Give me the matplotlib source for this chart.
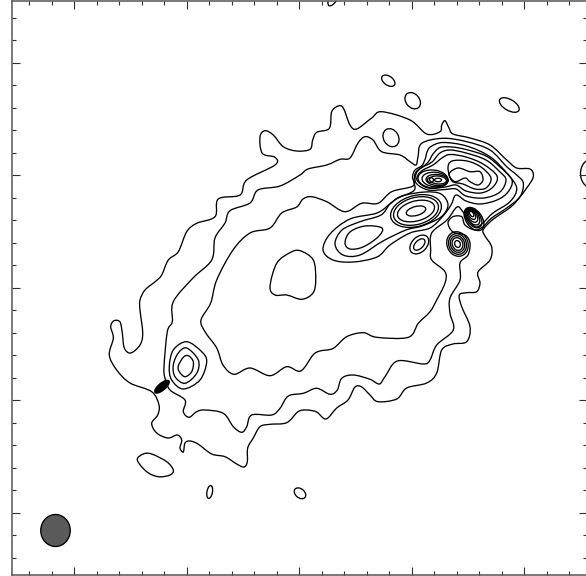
import matplotlib
matplotlib.use("Agg")
import matplotlib.pyplot as plt
import numpy as np
from matplotlib.patches import Ellipse, PathPatch
from matplotlib.path import Path

# Contours, in image position units (x right, y down)
outer = [
    (156, 281), (145, 290), (140, 300), (140, 310), (142.7, 333), (140, 345), (130.7, 353), (124.3, 348),
    (122.3, 333), (120, 322), (114, 320.7), (110.7, 326.7), (113.3, 338), (109.3, 355), (116.7, 370),
    (130, 383), (151.7, 391.7), (159, 405), (157.7, 415), (151.7, 423.3), (156.7, 433), (168, 438),
    (177.3, 435), (181.7, 440), (180, 448), (183.3, 452), (185, 443), (190, 441), (198, 444), (211.7, 454),
    (225, 456.7), (236.7, 464), (244, 467), (247.3, 461.7), (247.7, 448), (253.3, 438), (260, 426.7),
    (270, 424.3), (286.7, 422.7), (298, 411.7), (306.7, 410), (316.7, 412), (326, 419), (336.7, 408),
    (348, 400), (355, 387), (361.7, 387), (370, 395), (378, 401.7), (396.7, 399), (406.7, 388),
    (426.7, 383), (436.7, 373), (441.7, 350), (453, 344), (466.7, 341.7), (470, 326.7), (461.7, 306.7),
    (459.3, 295), (466.7, 292.7), (476.7, 291.7), (480, 283), (478, 272), (490, 260), (491.7, 247),
    (485, 236), (483, 230), (490, 222), (496.7, 216.7), (513, 205), (526.7, 188), (533.3, 176.7),
    (530, 169), (516.7, 168), (506.7, 160), (490, 145), (470, 138), (453, 134), (449, 128), (445, 120.7),
    (441.7, 125), (440, 131.7), (426.7, 134), (410, 120), (381.7, 111.7), (371.7, 118), (356.7, 129),
    (350, 125), (343.3, 108), (338.3, 106), (331.7, 111.7), (329.3, 128.3), (316.7, 132.3), (312.7, 140),
    (310, 149.3), (296.7, 151), (283.3, 146.7), (273.3, 135), (265, 130.7), (260, 136.7), (262.3, 153.3),
    (275, 157.3), (275, 165), (246.7, 180), (240, 195), (218.3, 199), (215, 216.7), (196.7, 223.3),
    (186.7, 231.7), (178.3, 251.7), (168.3, 260), (161.7, 275),
]
second = [
    (193, 278), (173.3, 301.7), (172.3, 321.7), (167.3, 331.7), (164, 366.7), (165, 378), (170, 390),
    (185, 400), (183.3, 411.7), (189, 417.3), (196.7, 411.7), (205, 410), (223.3, 413.3), (233.3, 426.7),
    (241.7, 432.3), (246.7, 426.7), (251.7, 415), (271.7, 415), (280, 408.3), (288.3, 396), (303.3, 393.3),
    (316.7, 388.3), (330, 394.3), (337.3, 390), (341.7, 378.3), (353.3, 375), (370, 379.3), (379.3, 384),
    (385, 376.7), (397.3, 361), (423.3, 364), (430, 360), (436.7, 345), (453.3, 330), (450, 313.3),
    (450, 298), (460, 280), (460, 263), (468, 255), (470, 243), (465, 235), (453, 232), (448, 223),
    (453, 216.7), (461.7, 216.7), (465, 225), (475, 230), (483, 226.7), (491.7, 218), (506.7, 208),
    (520, 196.7), (523.3, 183), (516.7, 175), (506.7, 166.7), (490, 150), (466.7, 141.7), (443, 138.3),
    (421.7, 143.3), (418, 157), (416, 165), (410, 161.7), (400, 155), (381.7, 151.7), (373, 140),
    (365, 136.7), (358, 143), (350, 158), (340, 159.3), (326.7, 165), (308, 169), (300, 175), (280, 186),
    (258, 190), (250, 203), (230, 210.7), (225, 223), (215, 238), (211.7, 260),
]
third = [
    (216.7, 280), (210.7, 303), (201, 320), (205, 331.7), (216.7, 348), (223, 365), (234, 374.3), (250, 368),
    (270, 375.7), (286.7, 366.7), (300.7, 371), (313, 355), (320, 351), (333.3, 348.3), (346.7, 336.7),
    (363.3, 332.7), (376.7, 337.3), (408.3, 337.3), (418.3, 323.3), (430, 311.7), (436.7, 300), (445, 283),
    (445, 271.7), (431.7, 260), (430.7, 250), (431.7, 233), (447, 220), (457, 207), (463, 212), (470, 222),
    (476, 227), (483, 223), (493, 213), (510, 201.7), (516.7, 188), (506.7, 173), (490, 156.7), (466.7, 146),
    (443, 142.5), (431, 146.5), (427, 152), (425.5, 158), (422, 165.5), (415, 170), (412.5, 177), (413, 186),
    (391.7, 191.7), (378, 203.3), (361.7, 203.3), (345, 211.7), (326.7, 201.7), (311.7, 196.7), (303, 199),
    (296.7, 207), (281.7, 213), (270, 228), (250, 233), (233, 250),
]
fourth = [
    (398, 198), (414, 190.5), (414, 181), (416, 172), (424, 166), (429, 161), (433, 154), (440, 147.5),
    (452, 147), (466, 149.5), (486, 156), (500, 167), (512, 180), (508, 192), (497, 200), (480, 204),
    (466, 201), (456, 195), (451, 205), (443, 216), (430, 228), (410, 233), (390, 245), (377, 257),
    (353, 262), (333, 260), (323, 250), (330, 234), (350, 219), (377, 213), (391, 203),
]
lobes_env = [
    (335, 244), (342, 230), (360, 221.7), (381, 215), (390, 204), (402, 196), (425, 192), (441, 194),
    (448, 205), (441, 217), (422, 226), (406, 230), (383, 241), (360, 255), (343, 255),
]
lobe_inner = [(345, 243), (350, 232), (365, 226), (382, 228), (378, 237), (363, 247), (350, 249)]
top_e = [
    (416, 183), (416, 174), (421, 168), (432, 162), (440, 153), (450, 150), (466, 153), (486, 160),
    (500, 172), (506, 180), (500, 192), (484, 198), (466, 196), (456, 189), (445, 189.5), (428, 190),
]
top_f = [
    (417.5, 181), (418, 175), (423, 170), (433, 165), (442, 158), (450, 154.5), (466, 157), (483, 164),
    (497, 176), (493, 187), (481, 193), (466, 191), (456, 185), (445, 187), (428, 188),
]
top_g = [
    (448, 168), (452, 161), (467, 161), (481, 167), (491, 178), (486, 188), (475, 189), (463, 184), (452, 181),
]
top_h = [
    (449, 174), (458, 168), (470, 171.7), (480, 171.7), (483, 180), (478, 185), (470, 181.7), (465, 178), (455, 181.7),
]
central = [
    (300, 250.7), (313.3, 260), (315.7, 280), (313, 293), (301.7, 299.3), (286.7, 295), (275, 295),
    (270, 286.7), (276.7, 263.3), (290, 252.7),
]
src_a = [
    (169.3, 366.7), (173.3, 350), (186.7, 341.7), (201.7, 351.7), (206.7, 361.7), (200, 380), (183.3, 389), (171.7, 380),
]
src_b = [
    (173.3, 365), (178.3, 353), (186.7, 348), (198.3, 360), (196.7, 373.3), (185, 383.3), (175, 376.7),
]
src_c = [
    (178.3, 366), (183.3, 357.3), (188.3, 355.7), (193.3, 361.7), (191.7, 371.7), (185, 376.7), (179.3, 371.7),
]
island_sw = [
    (137.3, 460), (143.3, 454), (151.7, 454), (166.7, 461.7), (173.3, 470), (170, 475), (158.3, 476.7), (146.7, 471.7),
]

traced = [outer, second, third, fourth, lobes_env, lobe_inner, top_e, top_f, top_g, top_h,
          central, src_a, src_b, src_c, island_sw]

# Small closed rings: centre x, centre y, long axis, short axis, tilt
ring_x = [388.3, 412.7, 509.3, 391, 209.7, 300, 591, 334,
          433, 435, 437, 438, 430.5, 438,
          474, 473.5, 473, 472.5, 472, 471.7,
          457.5, 457.5, 457.5, 457.5, 457.5,
          419.3, 419.3,
          416, 416, 416, 416]
ring_y = [80.7, 100.7, 105, 137.7, 492, 493.3, 173.5, -3,
          179, 179.5, 180, 180, 180, 180,
          219, 218, 217, 216, 215, 214,
          244, 244, 244, 244, 244,
          244.5, 244.5,
          211, 211, 211, 211]
ring_w = [15, 18, 22, 19, 13, 13, 28, 20,
          30, 26, 22, 17, 6, 7,
          26, 22, 18, 14, 10, 6,
          25, 21, 17, 13, 7,
          22, 14,
          52, 46, 38, 20]
ring_h = [9, 13.5, 11, 15, 5.5, 9, 21, 8,
          18, 14.5, 11, 8, 5, 3.5,
          16, 13.5, 11, 8.5, 6, 3.5,
          21, 17.5, 14, 10.5, 5.5,
          15, 8,
          31, 27, 20, 9]
ring_tilt = [35, 50, 30, 60, -80, 40, 90, 120,
             5, 5, 5, 5, 0, 0,
             55, 55, 55, 55, 55, 55,
             70, 70, 70, 70, 70,
             -45, -45,
             -15, -15, -15, -15]

# Tick positions
major_x = [74, 186.5, 299, 411.5, 524]
major_y = [62.7, 175, 287.5, 400, 512.5]
minor_x = [29, 51.5, 96.5, 119, 141.5, 164, 209, 231.5, 254, 276.5, 321.5, 344, 366.5, 389,
           434, 456.5, 479, 501.5, 546.5, 569]
minor_y = [17.7, 40.2, 85.2, 107.7, 130, 152.5, 197.5, 220, 242.5, 265, 310, 332.5, 355, 377.5,
           422.5, 445, 467.5, 490, 535, 557.5]


def closed_smooth(points):
    # Catmull-Rom through the traced points, written as bezier segments
    p = np.array(points, dtype=float)
    n = len(p)
    verts = [p[0]]
    codes = [Path.MOVETO]
    for i in range(n):
        p0, p1, p2, p3 = p[i - 1], p[i], p[(i + 1) % n], p[(i + 2) % n]
        verts += [p1 + (p2 - p0) / 6, p2 - (p3 - p1) / 6, p2]
        codes += [Path.CURVE4] * 3
    return Path(verts, codes)


def main():
    fig = plt.figure(figsize=(5.86, 5.76), dpi=100)
    ax = fig.add_axes([12 / 586, 1 / 576, 575 / 586, 574 / 576])
    ax.set_xlim(12, 587)
    ax.set_ylim(575, 1)

    for pts in traced:
        ax.add_patch(PathPatch(closed_smooth(pts), fill=False, edgecolor="black", linewidth=0.95))

    for x, y, w, h, t in zip(ring_x, ring_y, ring_w, ring_h, ring_tilt):
        ax.add_patch(Ellipse((x, y), w, h, angle=t, fill=False, edgecolor="black", linewidth=0.95))

    # Black knot on the contour and the beam in the corner
    ax.add_patch(Ellipse((162, 386.7), 18, 7, angle=-40, facecolor="black", edgecolor="black"))
    ax.add_patch(Ellipse((55.5, 530.5), 29.5, 32, facecolor="#5a5a5a", edgecolor="black", linewidth=0.95))

    ax.set_xticks(major_x)
    ax.set_yticks(major_y)
    ax.set_xticks(minor_x, minor=True)
    ax.set_yticks(minor_y, minor=True)
    ax.tick_params(which="major", direction="in", length=5.8, width=0.8, color="#303030",
                   top=True, right=True, labelbottom=False, labelleft=False)
    ax.tick_params(which="minor", direction="in", length=3.2, width=0.8, color="#303030",
                   top=True, right=True)
    for spine in ax.spines.values():
        spine.set_color("#555555")
        spine.set_linewidth(1.1)

    fig.savefig("out.png", dpi=100)


if __name__ == "__main__":
    main()
